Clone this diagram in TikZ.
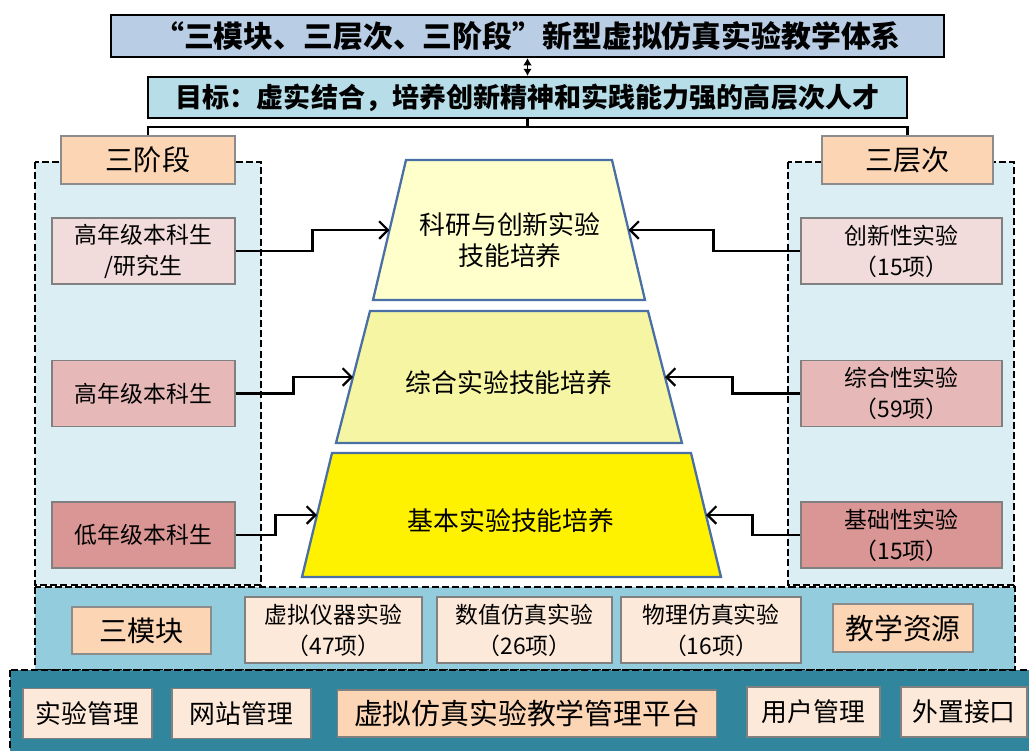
\documentclass[tikz,border=0pt]{standalone}
\usepackage{fontspec}
\setmainfont{Noto Sans CJK SC}
\usetikzlibrary{arrows.meta,calc}

\definecolor{titleblue}{HTML}{B9CDE5}
\definecolor{goalblue}{HTML}{B7DEE8}
\definecolor{peach}{HTML}{FCD5B5}
\definecolor{paleblue}{HTML}{DBEEF4}
\definecolor{midblue}{HTML}{93CDDD}
\definecolor{deepteal}{HTML}{31859C}
\definecolor{rose1}{HTML}{F2DCDB}
\definecolor{rose2}{HTML}{E6B9B8}
\definecolor{rose3}{HTML}{D99694}
\definecolor{cream}{HTML}{FDE9D9}
\definecolor{trapline}{HTML}{4A6FA5}
\definecolor{yellow1}{HTML}{FFFFCC}
\definecolor{yellow2}{HTML}{F5F5A3}

\begin{document}
\begin{tikzpicture}[x=0.02cm, y=-0.02cm,
    headbox/.style={draw=black, line width=1.4pt, inner sep=0pt, font=\bfseries},
    tagbox/.style={draw=black!45, fill=peach, line width=0.6pt, inner sep=0pt, minimum height=0.96cm, font=\fontsize{16}{20}\selectfont},
    itembox/.style={draw=black!50, line width=0.6pt, inner sep=0pt, align=center, minimum height=1.32cm, font=\fontsize{13}{17.6}\selectfont},
    basebox/.style={draw=black!50, fill=cream, line width=0.6pt, inner sep=0pt, minimum height=1.0cm, font=\fontsize{14.7}{18}\selectfont},
    zone/.style={draw=black, line width=1.6pt, dash pattern=on 4pt off 1.8pt},
    link/.style={line width=1.3pt, -{Straight Barb[length=5pt,width=10pt]}},
    trap/.style={draw=trapline, line width=1.3pt},
    traptext/.style={align=center, font=\fontsize{14.7}{18}\selectfont}]
    \useasboundingbox (0,0) rectangle (1029,751);
    \clip (0,0) rectangle (1029,751);

    % Zones
    \filldraw[zone, fill=paleblue] (35,162) rectangle (261,585);
    \filldraw[zone, fill=paleblue] (788,162) rectangle (1014,585);
    \filldraw[zone, fill=midblue] (35,587) rectangle (1015,670);
    \filldraw[zone, fill=deepteal] (10,670) rectangle (1045,770);

    % Title and goal
    \node[headbox, fill=titleblue, minimum width=16.66cm, minimum height=0.84cm, font=\bfseries\fontsize{17}{20}\selectfont] (title) at (527.5,36) {“三模块、三层次、三阶段”新型虚拟仿真实验教学体系};
    \node[headbox, fill=goalblue, minimum width=15.18cm, minimum height=0.82cm, font=\bfseries\fontsize{15.4}{19}\selectfont] (goal) at (527.5,97.5) {目标：虚实结合，培养创新精神和实践能力强的高层次人才};
    \draw[{Latex[length=4pt,width=5pt]}-{Latex[length=4pt,width=5pt]}, line width=1pt] (title.south) -- (goal.north);

    % Tags
    \node[tagbox, minimum width=3.48cm] (stages) at (148,160) {三阶段};
    \node[tagbox, minimum width=3.42cm] (levels) at (907.5,160) {三层次};
    \coordinate (bus) at (527.5,127);
    \draw[line width=1.4pt] (goal.south) -- (bus);
    \draw[line width=1.4pt] (stages.north) |- (bus) -| (levels.north);

    % Pyramid
    \filldraw[trap, fill=yellow1] (406,160) -- (612,160) -- (645,300) -- (373,300) -- cycle;
    \filldraw[trap, fill=yellow2] (370,311) -- (648,311) -- (682,443) -- (336,443) -- cycle;
    \filldraw[trap, fill=yellow] (332,453) -- (691,453) -- (721,577) -- (302,577) -- cycle;
    \coordinate (t1w) at ($(406,160)!0.5!(373,300)$);
    \coordinate (t1e) at ($(612,160)!0.5!(645,300)$);
    \coordinate (t2w) at ($(370,311)!0.5!(336,443)$);
    \coordinate (t2e) at ($(648,311)!0.5!(682,443)$);
    \coordinate (t3w) at ($(332,453)!0.5!(302,577)$);
    \coordinate (t3e) at ($(691,453)!0.5!(721,577)$);
    \node[traptext] (skill1) at (510,240) {科研与创新实验\\技能培养};
    \node[traptext] (skill2) at (509,383) {综合实验技能培养};
    \node[traptext] (skill3) at (511,521) {基本实验技能培养};

    % Stages
    \node[itembox, fill=rose1, minimum width=3.66cm] (senior2) at (143.5,251) {高年级本科生\\/研究生};
    \node[itembox, fill=rose2, minimum width=3.66cm] (senior) at (143.5,393.5) {高年级本科生};
    \node[itembox, fill=rose3, minimum width=3.66cm] (junior) at (143.5,535) {低年级本科生};

    % Levels
    \node[itembox, fill=rose1, minimum width=4.02cm] (innov) at (901.5,251) {创新性实验\\（15项）};
    \node[itembox, fill=rose2, minimum width=4.02cm] (integ) at (901.5,393.5) {综合性实验\\（59项）};
    \node[itembox, fill=rose3, minimum width=4.02cm] (basic) at (901.5,535) {基础性实验\\（15项）};

    % Links
    \draw[link] (senior2.east) -- ++(77,0) |- (t1w);
    \draw[link] (senior.east) -- ++(58,0) |- (t2w);
    \draw[link] (junior.east) -- ++(40,0) |- (t3w);
    \draw[link] (innov.west) -- ++(-87,0) |- (t1e);
    \draw[link] (integ.west) -- ++(-68,0) |- (t2e);
    \draw[link] (basic.west) -- ++(-48,0) |- (t3e);

    % Modules
    \node[tagbox, minimum width=2.78cm, minimum height=0.94cm] (modules) at (141.5,630.5) {三模块};
    \node[itembox, fill=cream, minimum width=3.54cm] (instr) at (333.5,630) {虚拟仪器实验\\（47项）};
    \node[itembox, fill=cream, minimum width=3.5cm] (numer) at (524.5,630) {数值仿真实验\\（26项）};
    \node[itembox, fill=cream, minimum width=3.6cm] (phys) at (711,630) {物理仿真实验\\（16项）};
    \node[tagbox, minimum width=2.8cm, font=\fontsize{16.4}{20}\selectfont] (res) at (903,628) {教学资源};

    % Platform
    \node[basebox, minimum width=2.58cm] (expm) at (87.5,713.5) {实验管理};
    \node[basebox, minimum width=2.78cm] (webm) at (241.5,713.5) {网站管理};
    \node[basebox, fill=peach, minimum width=7.6cm, minimum height=0.94cm, font=\fontsize{16.4}{20}\selectfont] (platform) at (527,713.5) {虚拟仿真实验教学管理平台};
    \node[basebox, minimum width=2.66cm] (userm) at (813.5,712) {用户管理};
    \node[basebox, minimum width=2.52cm] (iface) at (964,712) {外置接口};
\end{tikzpicture}
\end{document}
